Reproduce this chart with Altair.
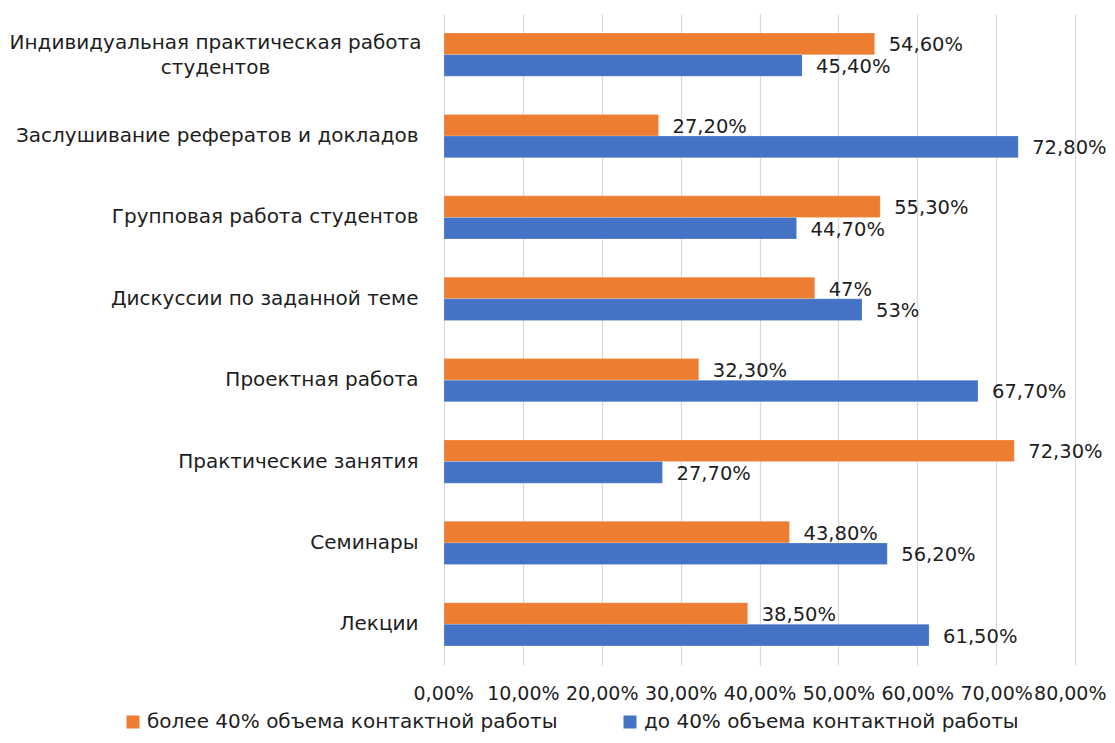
import altair as alt
import pandas as pd

categories = [
    "Индивидуальная практическая работа\nстудентов",
    "Заслушивание рефератов и докладов",
    "Групповая работа студентов",
    "Дискуссии по заданной теме",
    "Проектная работа",
    "Практические занятия",
    "Семинары",
    "Лекции",
]
series = ["более 40% объема контактной работы", "до 40% объема контактной работы"]
more40 = [54.6, 27.2, 55.3, 47.0, 32.3, 72.3, 43.8, 38.5]
less40 = [45.4, 72.8, 44.7, 53.0, 67.7, 27.7, 56.2, 61.5]
more40_labels = ["54,60%", "27,20%", "55,30%", "47%", "32,30%", "72,30%", "43,80%", "38,50%"]
less40_labels = ["45,40%", "72,80%", "44,70%", "53%", "67,70%", "27,70%", "56,20%", "61,50%"]
ticks = [0, 10, 20, 30, 40, 50, 60, 70, 80]
colors = ["#ED7D31", "#4472C4"]

rows = []
for c, v, l in zip(categories, more40, more40_labels):
    rows.append({"cat": c, "series": series[0], "value": v, "label": l})
for c, v, l in zip(categories, less40, less40_labels):
    rows.append({"cat": c, "series": series[1], "value": v, "label": l})
df = pd.DataFrame(rows)

FONT = "DejaVu Sans"
TXT = "#1e1e1e"
MULTI = "indexof(datum.label, '\\n') >= 0"

y_enc = alt.Y(
    "cat:N",
    sort=categories,
    title=None,
    scale=alt.Scale(paddingInner=0.47, paddingOuter=0.235),
    axis=alt.Axis(
        labelExpr="split(datum.label, '\\n')",
        labelLimit=600,
        labelPadding={"condition": {"test": MULTI, "value": 229}, "value": 26},
        labelAlign={"condition": {"test": MULTI, "value": "center"}, "value": "right"},
        labelOffset={"condition": {"test": MULTI, "value": -12}, "value": 0},
        ticks=False,
        domain=False,
        grid=False,
        labelFontSize=20,
        labelFont=FONT,
        labelColor=TXT,
        labelLineHeight=25,
    ),
)
yoff = alt.YOffset("series:N", sort=series, scale=alt.Scale(paddingInner=0.0))
x_enc = alt.X(
    "value:Q",
    title=None,
    scale=alt.Scale(domain=[0, 80], nice=False),
    axis=alt.Axis(
        values=ticks,
        labelExpr="replace(format(datum.value, '.2f'), '.', ',') + '%'",
        domain=False,
        ticks=False,
        labelPadding=19,
        grid=True,
        gridColor="#d9d9d9",
        gridWidth=1.2,
        labelFontSize=19,
        labelFont=FONT,
        labelColor=TXT,
        labelFlush=1,
        labelFlushOffset=31,
        labelOverlap=False,
    ),
)

bars = alt.Chart(df).mark_bar(stroke="#ffffff", strokeWidth=0.5, strokeOpacity=0.4).encode(
    x=x_enc,
    y=y_enc,
    yOffset=yoff,
    color=alt.Color(
        "series:N",
        sort=series,
        scale=alt.Scale(domain=series, range=colors),
        legend=alt.Legend(
            title=None,
            orient="none",
            legendX=-321,
            legendY=698,
            direction="horizontal",
            symbolType="square",
            symbolSize=169,
            symbolStrokeWidth=0,
            labelFontSize=20,
            labelFont=FONT,
            labelColor=TXT,
            labelLimit=600,
            columnPadding=62,
            symbolOffset=0,
            labelOffset=4,
        ),
    ),
)

text = alt.Chart(df).mark_text(
    align="left", baseline="middle", dx=14, dy=1.5, fontSize=19.5, font=FONT, color=TXT
).encode(
    x="value:Q",
    y=alt.Y("cat:N", sort=categories),
    yOffset=alt.YOffset("series:N", sort=series),
    text="label:N",
)

chart = (
    alt.layer(bars, text)
    .properties(
        width=631,
        height=651,
        autosize=alt.AutoSizeParams(type="none"),
        padding={"left": 436, "top": 6, "right": 32, "bottom": 70},
    )
    .configure_view(stroke=None)
)

chart.save("out.html", embed_options={"renderer": "svg", "actions": False})
